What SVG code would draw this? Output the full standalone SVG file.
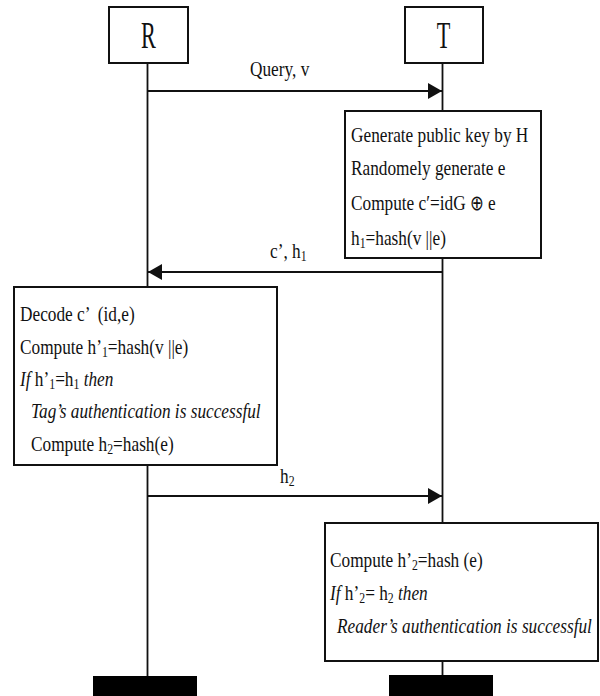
<svg xmlns="http://www.w3.org/2000/svg" width="600" height="696" viewBox="0 0 600 696">
<defs>
<style>
.box{fill:#fff;stroke:#111;stroke-width:2}
.life{stroke:#111;stroke-width:1.8;fill:none}
.msg{stroke:#111;stroke-width:2;fill:none}
.t{font-family:"Liberation Serif","DejaVu Serif",serif;font-size:22px;fill:#111}
.big{font-family:"Liberation Serif","DejaVu Serif",serif;font-size:37px;fill:#111}
.i{font-style:italic}
.sub{font-size:15px}
.sym{font-family:"DejaVu Sans",sans-serif;font-size:21px;font-weight:normal}
.bar{fill:#000}
</style>
<marker id="ah" markerUnits="userSpaceOnUse" markerWidth="14" markerHeight="16" refX="14" refY="8" orient="auto">
<path d="M0,0 L14,8 L0,16 z" fill="#111"/>
</marker>
</defs>
<g id="connectors">
<line class="life" x1="147.5" y1="63" x2="147.5" y2="676"/>
<line class="life" x1="442.5" y1="63" x2="442.5" y2="675"/>
<line class="msg" x1="148" y1="91" x2="442" y2="91" marker-end="url(#ah)"/>
<text class="t" transform="translate(250,76) scale(0.785,1)">Query, v</text>
<line class="msg" x1="442" y1="272" x2="148" y2="272" marker-end="url(#ah)"/>
<text class="t" transform="translate(270,258) scale(0.785,1)">c’, h<tspan class="sub" dy="3">1</tspan></text>
<line class="msg" x1="148" y1="496" x2="442" y2="496" marker-end="url(#ah)"/>
<text class="t" transform="translate(280,483) scale(0.785,1)">h<tspan class="sub" dy="3">2</tspan></text>
</g>
<g id="R">
<rect class="box" x="109" y="7" width="79" height="56"/>
<text class="big" text-anchor="middle" transform="translate(148.5,48) scale(0.6,1)">R</text>
</g>
<g id="T">
<rect class="box" x="405" y="7" width="78" height="56"/>
<text class="big" text-anchor="middle" transform="translate(443.5,48) scale(0.6,1)">T</text>
</g>
<g id="tag-compute">
<rect class="box" x="345" y="111" width="196" height="147"/>
<text class="t" transform="translate(351,142) scale(0.785,1)">Generate public key by H</text>
<text class="t" transform="translate(351,175) scale(0.785,1)">Randomely generate e</text>
<text class="t" transform="translate(351,210) scale(0.785,1)">Compute c′=idG <tspan class="sym">⊕</tspan> e</text>
<text class="t" transform="translate(351,245) scale(0.785,1)">h<tspan class="sub" dy="3">1</tspan><tspan dy="-3">=hash(v ||e)</tspan></text>
</g>
<g id="reader-decode">
<rect class="box" x="14" y="287" width="263" height="178"/>
<text class="t" transform="translate(20,321) scale(0.785,1)">Decode c’ &#160;(id,e)</text>
<text class="t" transform="translate(20,354) scale(0.785,1)">Compute h’<tspan class="sub" dy="3">1</tspan><tspan dy="-3">=hash(v ||e)</tspan></text>
<text class="t" transform="translate(20,386) scale(0.785,1)"><tspan class="i">If</tspan> h’<tspan class="sub" dy="3">1</tspan><tspan dy="-3">=h</tspan><tspan class="sub" dy="3">1</tspan><tspan class="i" dy="-3"> then</tspan></text>
<text class="t i" transform="translate(31,418) scale(0.785,1)">Tag’s authentication is successful</text>
<text class="t" transform="translate(31,451) scale(0.785,1)">Compute h<tspan class="sub" dy="3">2</tspan><tspan dy="-3">=hash(e)</tspan></text>
</g>
<g id="tag-verify">
<rect class="box" x="325" y="523" width="273" height="138"/>
<text class="t" transform="translate(330,567) scale(0.785,1)">Compute h’<tspan class="sub" dy="3">2</tspan><tspan dy="-3">=hash (e)</tspan></text>
<text class="t" transform="translate(330,600) scale(0.785,1)"><tspan class="i">If</tspan> h’<tspan class="sub" dy="3">2</tspan><tspan dy="-3">= h</tspan><tspan class="sub" dy="3">2</tspan><tspan class="i" dy="-3"> then</tspan></text>
<text class="t i" transform="translate(337,633) scale(0.785,1)">Reader’s authentication is successful</text>
</g>
<g id="end-R"><rect class="bar" x="93" y="676" width="104" height="20"/></g>
<g id="end-T"><rect class="bar" x="389" y="675" width="104" height="21"/></g>
</svg>
